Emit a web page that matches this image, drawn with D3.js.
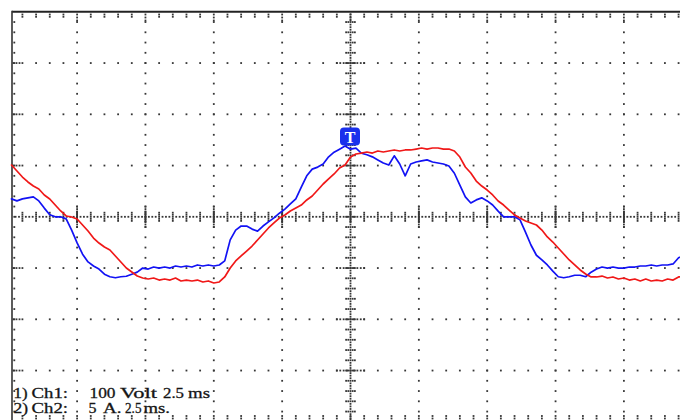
<!DOCTYPE html>
<html>
<head>
<meta charset="utf-8">
<script src="https://cdn.jsdelivr.net/npm/d3@7"></script>
<style>
  html, body { margin: 0; padding: 0; background: #fff; }
  svg { display: block; }
</style>
</head>
<body>
<svg id="scope" width="680" height="420"></svg>
<script>
// Sampling of both channels: start time and step, in milliseconds
const timeStartMs = -12.4;
const timeStepMs = 0.2;

// Channel 1: voltage (V), 100 V/div
const ch1Volts = [
  35, 31, 35, 37, 39, 31, 17, 4, 0, 0,
  -4, -26, -51, -73, -88, -96, -102, -112, -117, -119,
  -117, -116, -112, -108, -100, -102, -98, -100, -98, -100,
  -96, -98, -96, -98, -94, -96, -94, -96, -94, -86,
  -45, -26, -18, -18, -24, -28, -18, -10, -2, 7,
  15, 25, 35, 58, 80, 93, 97, 103, 117, 126,
  132, 138, 132, 134, 124, 121, 117, 111, 105, 101,
  119, 103, 80, 103, 107, 109, 111, 107, 105, 103,
  99, 85, 62, 39, 27, 33, 37, 31, 23, 11,
  0, 0, 0, -6, -30, -55, -75, -84, -94, -106,
  -117, -119, -117, -114, -114, -117, -108, -102, -98, -100,
  -98, -100, -100, -98, -98, -96, -96, -94, -96, -94,
  -94, -92, -80, -75
];

// Channel 2: current (A), 5 A/div
const ch2Amps = [
  5.05, 4.47, 3.88, 3.40, 3.00, 2.71, 2.13, 1.74, 1.15, 0.57,
  0.08, -0.02, -0.21, -0.80, -1.39, -2.07, -2.56, -2.95, -3.24, -3.82,
  -4.41, -5.00, -5.39, -5.78, -5.97, -6.07, -5.97, -6.17, -6.07, -6.17,
  -5.97, -6.26, -6.17, -6.26, -6.17, -6.36, -6.26, -6.46, -6.36, -5.87,
  -5.00, -4.31, -3.82, -3.34, -2.85, -2.26, -1.68, -1.09, -0.60, -0.12,
  0.18, 0.57, 0.86, 1.15, 1.64, 2.03, 2.61, 3.20, 3.69, 4.18,
  4.76, 5.05, 5.83, 6.13, 6.22, 6.32, 6.22, 6.42, 6.32, 6.42,
  6.52, 6.42, 6.52, 6.52, 6.61, 6.71, 6.61, 6.71, 6.71, 6.61,
  6.61, 6.42, 5.83, 4.86, 4.27, 3.49, 3.00, 2.61, 2.13, 1.54,
  1.15, 0.66, 0.18, -0.12, -0.41, -0.60, -0.80, -1.29, -1.97, -2.46,
  -3.04, -3.63, -4.21, -4.70, -5.19, -5.58, -5.87, -5.87, -5.78, -5.97,
  -5.87, -6.07, -5.97, -6.17, -6.07, -6.26, -6.07, -6.26, -6.17, -6.26,
  -6.07, -6.17, -5.87, -5.87
];

// Scale settings shown in the readout, word by word
const readoutLines = [
  ["1)", "Ch1:", "100", "Volt", "2.5", "ms"],
  ["2)", "Ch2:", "5", "A.", "2.5", "ms."]
];

const msPerDiv = 2.5, voltsPerDiv = 100, ampsPerDiv = 5;

const svg = d3.select("#scope");

// 10 x 8 divisions screen
const x = d3.scaleLinear().domain([-5 * msPerDiv, 5 * msPerDiv]).range([8.75, 692.25]);
const yV = d3.scaleLinear().domain([-4 * voltsPerDiv, 4 * voltsPerDiv]).range([421.8, 11.8]);
const yA = d3.scaleLinear().domain([-4 * ampsPerDiv, 4 * ampsPerDiv]).range([421.8, 11.8]);

const leftEdge = 12, topEdge = 11.8;
const dotColor = "#363636";
const grid = svg.append("g").attr("fill", dotColor);
function dot(cx, cy, s = 1.8) {
  grid.append("rect").attr("x", cx - s / 2).attr("y", cy - s / 2).attr("width", s).attr("height", s);
}

const minorMs = msPerDiv / 5, minorV = voltsPerDiv / 5;
const minorTimes = d3.range(-5 * msPerDiv + minorMs, 5 * msPerDiv, minorMs).filter(t => x(t) > leftEdge + 4 && x(t) < 682);
const minorVolts = d3.range(-4 * voltsPerDiv + minorV, 4 * voltsPerDiv, minorV);
const majorTimes = d3.range(-4, 5).map(k => k * msPerDiv).filter(t => t !== 0);
const majorVolts = d3.range(-3, 4).map(k => k * voltsPerDiv).filter(v => v !== 0);
const isMajorT = t => Math.abs(t / msPerDiv - Math.round(t / msPerDiv)) < 1e-6;

// vertical dotted graticule lines
majorTimes.forEach(t => {
  minorVolts.forEach(v => dot(x(t), yV(v)));
  d3.range(-minorV, minorV + 0.1, minorV / 4).forEach(v => dot(x(t), yV(v)));
});
// horizontal dotted graticule lines
majorVolts.forEach(v => {
  minorTimes.forEach(t => dot(x(t), yV(v)));
  d3.range(-minorMs, minorMs + 0.01, minorMs / 4).forEach(t => dot(x(t), yV(v)));
  [13.5, 16.5, 19.5].forEach(px => dot(px, yV(v)));
});
// centre horizontal axis with tick marks
d3.range(-5 * msPerDiv, 5 * msPerDiv, minorMs / 4).forEach(t => {
  if (x(t) > leftEdge + 1) dot(x(t), yV(0));
});
minorTimes.forEach(t => {
  const offs = isMajorT(t) ? [-10, -7.5, -5, -2.5, 2.5, 5, 7.5, 10] : [-8, -4, 4, 8];
  offs.forEach(v => dot(x(t), yV(v)));
});
// centre vertical axis with tick marks
d3.range(-4 * voltsPerDiv, 4 * voltsPerDiv, minorV / 4).forEach(v => {
  if (yV(v) > topEdge + 2) dot(x(0), yV(v));
});
minorVolts.forEach(v => {
  [-0.16, -0.08, 0.08, 0.16].forEach(t => dot(x(t), yV(v)));
});
// border tick marks (top, bottom, left)
minorTimes.forEach(t => {
  const top = isMajorT(t) ? [14.5, 17.5, 20.5] : [14.5, 16.8];
  top.forEach(py => dot(x(t), py));
  [416, 418.5].forEach(py => dot(x(t), py));
});
minorVolts.forEach(v => { if (yV(v) > 18) dot(14.3, yV(v)); });

// frame
svg.append("line").attr("x1", leftEdge).attr("x2", 680).attr("y1", topEdge).attr("y2", topEdge)
  .attr("stroke", "#222").attr("stroke-width", 2);
svg.append("line").attr("x1", leftEdge).attr("x2", leftEdge).attr("y1", topEdge - 1).attr("y2", 420)
  .attr("stroke", "#333").attr("stroke-width", 1.6);

// traces
const times = ch1Volts.map((_, i) => timeStartMs + i * timeStepMs);
const traces = svg.append("g").attr("fill", "none").attr("stroke-width", 1.7)
  .attr("stroke-linejoin", "round").attr("stroke-linecap", "round");

const lineV = d3.line().x((d, i) => x(times[i])).y(d => yV(d));
const lineA = d3.line().x((d, i) => x(times[i])).y(d => yA(d));

traces.append("path").attr("d", lineV(ch1Volts)).attr("stroke", "#1212f4");
traces.append("path").attr("d", lineA(ch2Amps)).attr("stroke", "#f01818");

// trigger marker
const trig = svg.append("g").attr("transform", `translate(${x(0)},0)`);
trig.append("rect").attr("x", -10.5).attr("y", 127.5).attr("width", 20).attr("height", 18)
  .attr("rx", 4).attr("fill", "#1a30ec");
trig.append("text").attr("x", -0.5).attr("y", 142.5).attr("text-anchor", "middle")
  .attr("font-family", "Liberation Serif, serif").attr("font-weight", "bold")
  .attr("font-size", 16).attr("fill", "#fff").text("T");

// readout text, each word placed in its column
const wordBoxes = [
  [[13.5, 14], [31.5, 36.5], [89.5, 26], [120, 37], [163, 21], [188, 22]],
  [[13.5, 14.5], [31.5, 36.5], [88.5, 8], [103, 18.5], [125, 16.5], [143.5, 26.5]]
];
const baselines = [397.5, 412.5];
readoutLines.forEach((words, li) => {
  words.forEach((w, wi) => {
    const [wx, ww] = wordBoxes[li][wi];
    svg.append("text")
      .attr("font-family", "Liberation Serif, DejaVu Serif, serif")
      .attr("font-size", 15).attr("fill", "#151515")
      .attr("stroke", "#151515").attr("stroke-width", 0.3)
      .attr("x", wx).attr("y", baselines[li])
      .attr("textLength", ww).attr("lengthAdjust", "spacingAndGlyphs")
      .text(w);
  });
});
</script>
</body>
</html>
